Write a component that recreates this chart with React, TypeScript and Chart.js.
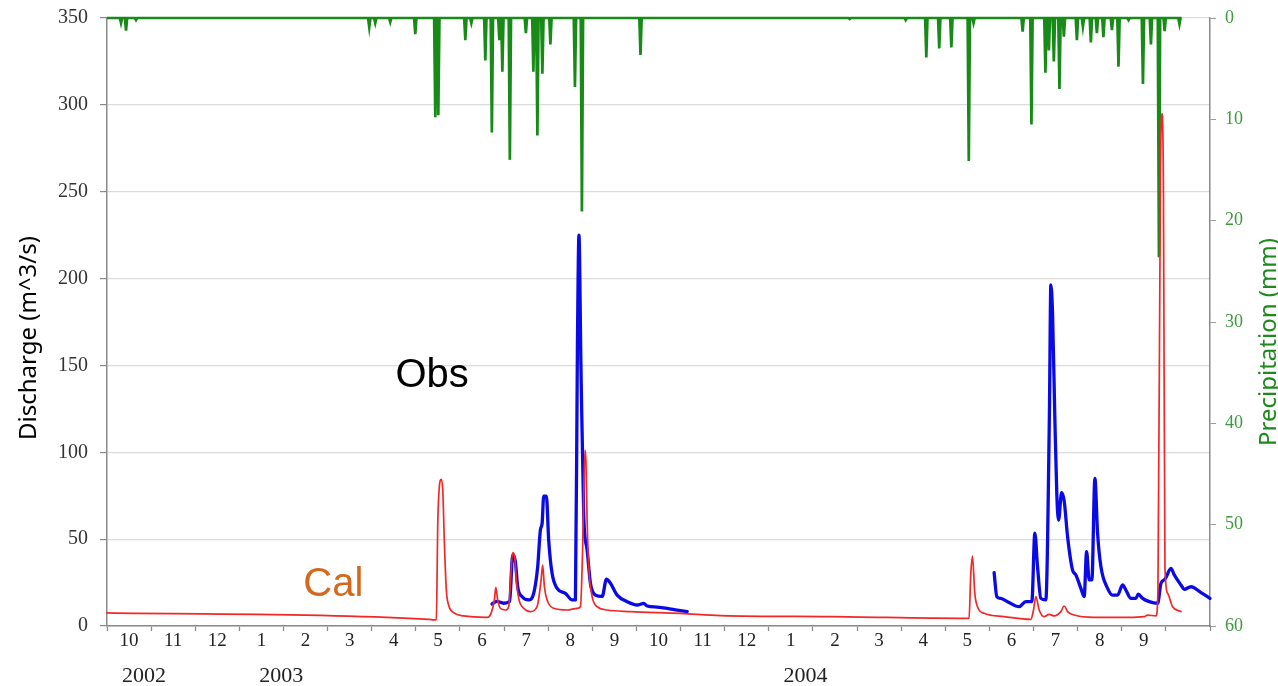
import React, { useEffect, useRef } from 'react';
import { Chart, registerables } from 'chart.js';
Chart.register(...registerables);

// Time axis unit: months since 1 Oct 2002
const monthLabels = ['10', '11', '12', '1', '2', '3', '4', '5', '6', '7', '8', '9', '10', '11', '12', '1', '2', '3', '4', '5', '6', '7', '8', '9', ''];
const yearLabels = ['2002', '2003', '2004'];
const yearLabelMonth = [0.84, 3.95, 15.83];

// Calculated discharge (m^3/s)
const calT = [0, 7.305, 7.402, 7.464, 7.498, 7.532, 7.577, 7.611, 7.645, 7.691, 7.743, 7.856, 8.083, 8.614, 8.705, 8.78, 8.813, 8.855, 8.916, 9.029, 9.104, 9.195, 9.24, 9.279, 9.331, 9.444, 9.596, 9.748, 9.839, 9.875, 9.914, 9.975, 10.125, 10.429, 10.656, 10.731, 10.776, 10.833, 10.855, 10.882, 10.919, 10.996, 11.109, 11.336, 11.865, 12.999, 13.906, 16.402, 19.487, 19.539, 19.578, 19.616, 19.669, 19.73, 19.88, 20.333, 20.939, 21.0, 21.053, 21.128, 21.241, 21.354, 21.468, 21.62, 21.695, 21.772, 21.922, 22.375, 23.133, 23.509, 23.586, 23.775, 23.82, 23.877, 23.911, 23.945, 23.979, 24.04, 24.153, 24.343];
const calQ = [7.5, 3.8, 3.5, 3.8, 60, 80, 84.4, 78, 49.5, 20.7, 12.1, 7.7, 5.8, 5.0, 7.3, 15, 22.3, 15, 10.2, 9.2, 11.1, 42.2, 40, 26.5, 15.9, 10.2, 8.3, 11.1, 26.5, 35.1, 22.6, 15, 10.2, 9.2, 10.2, 11.1, 40, 101.3, 95, 61, 34.2, 16.9, 11.1, 9.2, 8.3, 7.3, 6.0, 5.4, 4.4, 4.5, 30, 40.3, 18.8, 11.1, 7.3, 5.4, 3.8, 9.2, 16.9, 9.2, 5.4, 6.7, 5.8, 8.3, 11.5, 8.3, 6.3, 5.0, 5.0, 5.4, 6.3, 5.8, 20, 260, 295, 250, 34, 18.8, 11.1, 8.3];

// Observed discharge (m^3/s), two observation periods
const obs2003T = [8.727, 8.84, 8.99, 9.126, 9.195, 9.256, 9.308, 9.408, 9.557, 9.671, 9.762, 9.823, 9.862, 9.898, 9.959, 10.011, 10.088, 10.202, 10.39, 10.542, 10.617, 10.662, 10.697, 10.742, 10.806, 10.882, 10.957, 11.071, 11.223, 11.32, 11.411, 11.563, 11.79, 12.017, 12.167, 12.243, 12.47, 12.697, 12.924, 13.151];
const obs2003Q = [12.7, 14.2, 13.1, 14.2, 40.9, 37, 22.6, 16.9, 15, 18.8, 34.2, 55.3, 59, 74.8, 74.7, 49.5, 30.3, 21.7, 18.8, 15, 15, 160, 225, 150, 63, 43.8, 24.6, 17.8, 17, 26.9, 24.6, 17.8, 14, 12.1, 13, 11.5, 10.9, 10.2, 9.2, 8.3];
const obs2004T = [20.107, 20.168, 20.258, 20.411, 20.674, 20.826, 20.962, 21.03, 21.091, 21.166, 21.279, 21.359, 21.393, 21.431, 21.483, 21.529, 21.568, 21.636, 21.695, 21.772, 21.885, 21.96, 22.073, 22.148, 22.203, 22.262, 22.323, 22.391, 22.452, 22.527, 22.679, 22.792, 22.906, 23.019, 23.094, 23.208, 23.321, 23.373, 23.473, 23.623, 23.813, 23.889, 23.979, 24.115, 24.19, 24.342, 24.417, 24.569, 24.796, 25.0];
const obs2004Q = [30.7, 16.9, 15.9, 14, 11.1, 14, 14, 53.4, 34.2, 15.9, 15, 120, 196.3, 180, 120, 75, 61, 76.8, 72, 51.4, 32.2, 29.4, 21.7, 16.9, 42.8, 26.5, 26.5, 85, 53.4, 34.2, 21.7, 17.8, 17.8, 23.6, 20.7, 15.9, 15.9, 18.4, 15.9, 14, 13, 24.6, 26.9, 33.2, 29.4, 23.6, 21.1, 22.6, 19.2, 15.9];

// Daily precipitation (mm): rainy days; all other days are 0
const precipStartT = 0;
const precipEndT = 24.36;
const precipT = [0.318, 0.431, 0.658, 5.944, 6.08, 6.42, 6.987, 7.441, 7.509, 8.122, 8.258, 8.575, 8.723, 8.893, 8.961, 9.131, 9.494, 9.664, 9.755, 9.868, 10.05, 10.606, 10.764, 12.092, 16.833, 18.103, 18.57, 18.863, 19.138, 19.533, 19.64, 20.753, 20.953, 21.27, 21.348, 21.461, 21.588, 21.688, 21.983, 22.119, 22.3, 22.436, 22.584, 22.777, 22.926, 23.153, 23.48, 23.661, 23.843, 23.972, 24.308];
const precipMM = [0.5, 1.25, 0.2, 0.9, 0.5, 0.4, 1.6, 9.8, 9.6, 2.2, 0.5, 4.2, 11.3, 2.2, 5.3, 14.0, 1.5, 5.3, 11.6, 5.5, 2.6, 6.8, 19.1, 3.65, 0.1, 0.2, 3.9, 3.0, 2.9, 14.1, 0.5, 1.35, 10.5, 5.4, 3.2, 4.3, 7.0, 1.85, 2.2, 0.85, 2.4, 1.5, 1.9, 1.2, 4.8, 0.2, 6.5, 2.6, 23.6, 1.3, 0.6];

const obsText = { label: 'Obs', t: 7.37, q: 144 };
const calText = { label: 'Cal', t: 5.13, q: 23.5 };

const ONE_DAY = 1 / 30.4;

function pairs(t: number[], v: number[]) {
  return t.map((x, i) => ({ x, y: v[i] }));
}

function precipSeries() {
  const pts: { x: number; y: number }[] = [{ x: precipStartT, y: 0 }];
  precipT.forEach((t, i) => {
    pts.push({ x: t - ONE_DAY * 0.8, y: 0 });
    pts.push({ x: t, y: precipMM[i] });
    pts.push({ x: t + ONE_DAY * 0.8, y: 0 });
  });
  pts.push({ x: precipEndT, y: 0 });
  return pts;
}

const monthTickValues: number[] = [];
for (let i = 0; i <= monthLabels.length; i++) {
  monthTickValues.push(i);
  if (i < monthLabels.length) monthTickValues.push(i + 0.5);
}

const overlayPlugin = {
  id: 'overlayText',
  afterDatasetsDraw(chart: any) {
    const { ctx, chartArea, scales } = chart;
    const x = scales.x;
    const y = scales.y;
    ctx.save();
    ctx.textAlign = 'center';
    ctx.textBaseline = 'middle';
    ctx.font = '40px "Liberation Sans", Arial, sans-serif';
    ctx.fillStyle = '#000000';
    ctx.fillText(obsText.label, x.getPixelForValue(obsText.t), y.getPixelForValue(obsText.q));
    ctx.fillStyle = '#d2691e';
    ctx.fillText(calText.label, x.getPixelForValue(calText.t), y.getPixelForValue(calText.q));

    const cy = (chartArea.top + chartArea.bottom) / 2 + 16;
    ctx.font = '24px "Noto Sans", "Open Sans", sans-serif';
    ctx.fillStyle = '#000000';
    ctx.save();
    ctx.translate(scales.y.left + 29, cy);
    ctx.rotate(-Math.PI / 2);
    ctx.fillText('Discharge (m^3/s)', 0, 0);
    ctx.restore();
    ctx.fillStyle = '#1e8a1e';
    ctx.save();
    ctx.translate(scales.y1.right - 9, cy + 4);
    ctx.rotate(-Math.PI / 2);
    ctx.fillText('Precipitation (mm)', 0, 0);
    ctx.restore();
    ctx.restore();
  },
};

const lineCommon = {
  pointRadius: 0,
  cubicInterpolationMode: 'monotone',
  borderJoinStyle: 'round',
  borderCapStyle: 'round',
  yAxisID: 'y',
  clip: false,
};

export default function App() {
  const ref = useRef<HTMLCanvasElement | null>(null);
  useEffect(() => {
    if (!ref.current) return;
    const chart = new Chart(ref.current, {
      type: 'line',
      data: {
        datasets: [
          {
            ...lineCommon,
            label: 'Cal',
            data: pairs(calT, calQ),
            borderColor: '#f22828',
            borderWidth: 1.7,
          },
          {
            ...lineCommon,
            label: 'Obs 2003',
            data: pairs(obs2003T, obs2003Q),
            borderColor: '#0a0ae6',
            borderWidth: 3.3,
          },
          {
            ...lineCommon,
            label: 'Obs 2004',
            data: pairs(obs2004T, obs2004Q),
            borderColor: '#0a0ae6',
            borderWidth: 3.3,
          },
          {
            label: 'Precipitation',
            data: precipSeries(),
            borderColor: '#178a17',
            borderWidth: 2.7,
            pointRadius: 0,
            tension: 0,
            yAxisID: 'y1',
            clip: false,
          },
        ],
      },
      options: {
        responsive: false,
        animation: false,
        layout: { padding: { top: 18, left: 0, right: 0, bottom: 0 } },
        plugins: { legend: { display: false }, tooltip: { enabled: false } },
        scales: {
          x: {
            type: 'linear',
            position: 'bottom',
            min: 0,
            max: monthLabels.length,
            afterBuildTicks: (s: any) => {
              s.ticks = monthTickValues.map((v) => ({ value: v }));
            },
            afterFit: (s: any) => {
              s.height = 30;
            },
            ticks: {
              autoSkip: false,
              maxRotation: 0,
              minRotation: 0,
              padding: -1,
              color: '#222222',
              font: { family: '"Liberation Serif", serif', size: 19 },
              callback: (v: any) => {
                const n = Number(v);
                return Number.isInteger(n) ? '' : monthLabels[Math.floor(n)];
              },
            },
            grid: {
              drawOnChartArea: false,
              drawTicks: true,
              tickLength: 5,
              tickWidth: 1.3,
              tickColor: (c: any) => (c.tick && Number.isInteger(c.tick.value) ? '#8a8a8a' : 'rgba(0,0,0,0)'),
            },
            border: { color: '#8a8a8a', width: 1.5 },
          },
          xYear: {
            type: 'linear',
            position: 'bottom',
            weight: 1,
            min: 0,
            max: monthLabels.length,
            afterBuildTicks: (s: any) => {
              s.ticks = yearLabelMonth.map((v) => ({ value: v }));
            },
            afterFit: (s: any) => {
              s.height = 30;
            },
            ticks: {
              autoSkip: false,
              maxRotation: 0,
              minRotation: 0,
              padding: 7,
              color: '#222222',
              font: { family: '"Liberation Serif", serif', size: 22 },
              callback: (_v: any, i: number) => yearLabels[i],
            },
            grid: { display: false, drawTicks: false },
            border: { display: false },
          },
          y: {
            type: 'linear',
            position: 'left',
            min: 0,
            max: 350,
            afterFit: (s: any) => {
              s.width = 107;
            },
            ticks: {
              stepSize: 50,
              padding: 12,
              color: '#333333',
              font: { family: '"Liberation Serif", serif', size: 20, lineHeight: 0.5 },
            },
            grid: { color: '#dcdcdc', lineWidth: 1.2, tickLength: 7, tickColor: '#8a8a8a' },
            border: { color: '#8a8a8a', width: 1.5 },
          },
          y1: {
            type: 'linear',
            position: 'right',
            min: 0,
            max: 60,
            reverse: true,
            afterFit: (s: any) => {
              s.width = 68;
            },
            ticks: {
              stepSize: 10,
              padding: 9,
              color: '#3c9a3c',
              font: { family: '"Liberation Serif", serif', size: 18, lineHeight: 0.8 },
            },
            grid: { drawOnChartArea: false, tickLength: 6, tickColor: '#9a9a9a' },
            border: { color: '#8a8a8a', width: 1.5 },
          },
        },
      },
      plugins: [overlayPlugin],
    } as any);
    return () => chart.destroy();
  }, []);

  return (
    <div style={{ position: 'fixed', left: 0, top: 0, width: 1278, height: 686, background: '#ffffff' }}>
      <canvas ref={ref} width={1278} height={686} style={{ display: 'block' }} />
    </div>
  );
}
